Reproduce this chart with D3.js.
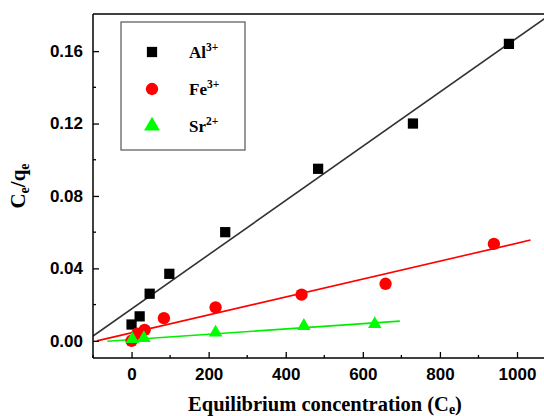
<!DOCTYPE html>
<html>
<head>
<meta charset="utf-8">
<script src="https://cdn.jsdelivr.net/npm/d3@7"></script>
<style>
  body { margin: 0; background: #fff; }
  svg { display: block; }
</style>
</head>
<body>
<svg width="544" height="416"></svg>
<script>
// Al3+ data
var alX = [0, 21, 47, 98, 243, 484, 730, 979];
var alY = [0.009, 0.0135, 0.026, 0.037, 0.060, 0.095, 0.120, 0.164];
// Fe3+ data
var feX = [0, 15, 34, 84, 218, 441, 659, 940];
var feY = [0.000, 0.004, 0.006, 0.0125, 0.0185, 0.0255, 0.0315, 0.0535];
// Sr2+ data
var srX = [2, 32, 218, 447, 631];
var srY = [0.001, 0.0015, 0.0045, 0.0082, 0.0092];

// linear fits: intercept, slope, x start, x end
var alFit = [0.0176, 0.0001497, -100, 1100];
var feFit = [0.0044, 0.0000495, -90, 1035];
var srFit = [0.0007, 0.0000146, -63, 696];

var xTicks = [0, 200, 400, 600, 800, 1000];
var yTicks = [0.00, 0.04, 0.08, 0.12, 0.16];

var series = [
  { name: "Al", sup: "3+", xs: alX, ys: alY, fit: alFit, color: "#000000", line: "#333333", shape: "square" },
  { name: "Fe", sup: "3+", xs: feX, ys: feY, fit: feFit, color: "#ff0000", line: "#ff0000", shape: "circle" },
  { name: "Sr", sup: "2+", xs: srX, ys: srY, fit: srFit, color: "#00ff00", line: "#00ee00", shape: "triangle" }
];

var svg = d3.select("svg");
var x = d3.scaleLinear().domain([-100, 1070]).range([93, 544]);
var y = d3.scaleLinear().domain([-0.0095, 0.1805]).range([358, 14]);

svg.append("defs").append("clipPath").attr("id", "clip")
  .append("rect").attr("x", 93).attr("y", 14).attr("width", 451).attr("height", 344);

// fit lines
var plot = svg.append("g").attr("clip-path", "url(#clip)");
series.forEach(function(s) {
  var f = s.fit;
  plot.append("line")
    .attr("x1", x(f[2])).attr("y1", y(f[0] + f[1] * f[2]))
    .attr("x2", x(f[3])).attr("y2", y(f[0] + f[1] * f[3]))
    .attr("stroke", s.line).attr("stroke-width", 1.6);
});

var symbols = { square: d3.symbolSquare, circle: d3.symbolCircle, triangle: d3.symbolTriangle };
var sizes = { square: 105, circle: 120, triangle: 80 };

// markers
series.forEach(function(s) {
  var pts = s.xs.map(function(v, i) { return [v, s.ys[i]]; });
  svg.append("g").selectAll("path")
    .data(pts)
    .enter().append("path")
    .attr("d", d3.symbol().type(symbols[s.shape]).size(sizes[s.shape]))
    .attr("transform", function(d) { return "translate(" + x(d[0]) + "," + y(d[1]) + ")"; })
    .attr("fill", s.color);
});

// axes
var xAxis = d3.axisBottom(x).tickValues(xTicks).tickSize(-6).tickPadding(10).tickFormat(d3.format("d"));
var yAxis = d3.axisLeft(y).tickValues(yTicks).tickSize(-6).tickPadding(10).tickFormat(d3.format(".2f"));

var gx = svg.append("g").attr("transform", "translate(0,358)").call(xAxis);
var gy = svg.append("g").attr("transform", "translate(93,0)").call(yAxis);

[gx, gy].forEach(function(g) {
  g.select(".domain").attr("stroke-width", 1.5);
  g.selectAll(".tick line").attr("stroke-width", 1.3);
  g.selectAll(".tick text")
    .attr("font-family", "Liberation Sans, Arial, sans-serif")
    .attr("font-weight", "bold")
    .attr("font-size", 17)
    .attr("fill", "#000");
});
gx.select(".domain").attr("d", "M93,0H544");
gy.select(".domain").attr("d", "M0,358V14");

// minor ticks
var xMinor = [-100, 100, 300, 500, 700, 900];
var yMinor = [0.02, 0.06, 0.10, 0.14];
svg.append("g").selectAll("line").data(xMinor).enter().append("line")
  .attr("x1", function(d) { return x(d); }).attr("x2", function(d) { return x(d); })
  .attr("y1", 358).attr("y2", 355).attr("stroke", "#000").attr("stroke-width", 1.3);
svg.append("g").selectAll("line").data(yMinor).enter().append("line")
  .attr("y1", function(d) { return y(d); }).attr("y2", function(d) { return y(d); })
  .attr("x1", 93).attr("x2", 96).attr("stroke", "#000").attr("stroke-width", 1.3);

// top border
svg.append("line").attr("x1", 93).attr("x2", 544).attr("y1", 14).attr("y2", 14)
  .attr("stroke", "#000").attr("stroke-width", 1.5);

// axis titles
var xt = svg.append("text")
  .attr("x", 325).attr("y", 411)
  .attr("text-anchor", "middle")
  .attr("font-family", "Liberation Serif, Times New Roman, serif")
  .attr("font-weight", "bold").attr("font-size", 20.5);
xt.append("tspan").text("Equilibrium concentration (C");
xt.append("tspan").attr("font-size", 14).attr("dy", 3).text("e");
xt.append("tspan").attr("dy", -3).text(")");

var yt = svg.append("text")
  .attr("transform", "translate(25,186) rotate(-90)")
  .attr("text-anchor", "middle")
  .attr("font-family", "Liberation Serif, Times New Roman, serif")
  .attr("font-weight", "bold").attr("font-size", 21);
yt.append("tspan").text("C");
yt.append("tspan").attr("font-size", 14).attr("dy", 4).text("e");
yt.append("tspan").attr("dy", -4).text("/q");
yt.append("tspan").attr("font-size", 14).attr("dy", 4).text("e");

// legend
var lg = svg.append("g");
lg.append("rect").attr("x", 121).attr("y", 22).attr("width", 124).attr("height", 128)
  .attr("fill", "#fff").attr("stroke", "#555").attr("stroke-width", 1.2);
series.forEach(function(s, i) {
  var ly = 52 + i * 37;
  lg.append("path")
    .attr("d", d3.symbol().type(symbols[s.shape]).size(s.shape === "triangle" ? 110 : sizes[s.shape]))
    .attr("transform", "translate(152," + ly + ")")
    .attr("fill", s.color);
  var t = lg.append("text").attr("x", 189).attr("y", ly + 6)
    .attr("font-family", "Liberation Serif, Times New Roman, serif")
    .attr("font-weight", "bold").attr("font-size", 17);
  t.append("tspan").text(s.name);
  t.append("tspan").attr("font-size", 11.5).attr("dy", -7).text(s.sup);
});
</script>
</body>
</html>
